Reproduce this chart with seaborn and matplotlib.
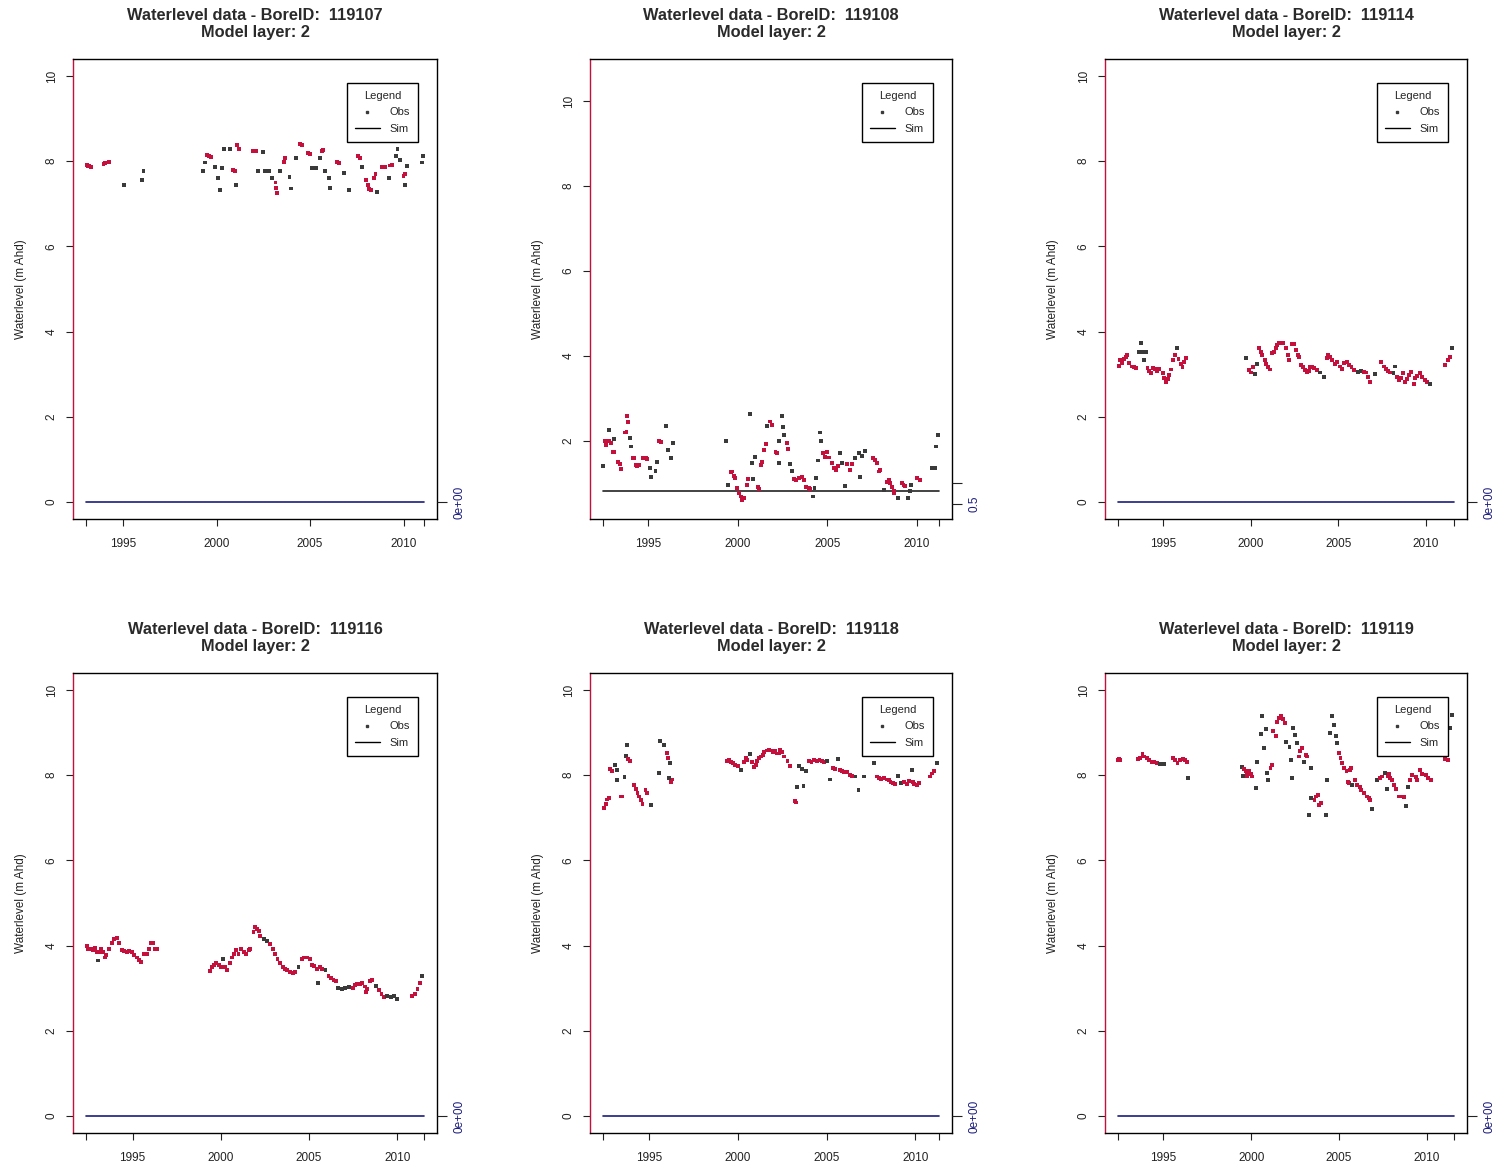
import numpy as np
import pandas as pd
import matplotlib
matplotlib.use("Agg")
import matplotlib.pyplot as plt
import seaborn as sns
from matplotlib.lines import Line2D

sns.set_style("white")
plt.rcParams["font.family"] = ["Liberation Sans", "DejaVu Sans"]

# ---------------- data ----------------
bore_ids = ["119107", "119108", "119114", "119116", "119118", "119119"]
model_layer = 2
sim_level = [0.0, 0.82, 0.0, 0.0, 0.0, 0.0]
sim_start = [1993.04, 1992.49, 1992.44, 1992.39, 1992.43, 1992.45]
sim_end = [2011.07, 2011.21, 2011.58, 2011.48, 2011.31, 2011.51]
y_limits = [(-0.4, 10.4), (0.15, 11.0), (-0.4, 10.4), (-0.4, 10.4), (-0.4, 10.4), (-0.4, 10.4)]
y_ticks = [0, 2, 4, 6, 8, 10]
x_tick_years = [1995, 2000, 2005, 2010]
sim_ticks = [[0.0], [0.5, 1.0], [0.0], [0.0], [0.0], [0.0]]
sim_tick_labels = [["0e+00"], ["0.5", ""], ["0e+00"], ["0e+00"], ["0e+00"], ["0e+00"]]

obs_year_1 = [1993.05, 1993.12, 1993.2, 1993.28, 1993.95, 1994.05, 1994.15, 1994.25, 1995.07, 1996.0,
              1996.09, 1999.27, 1999.4, 1999.5, 1999.6, 1999.7, 1999.9, 2000.07, 2000.16, 2000.3,
              2000.4, 2000.7, 2000.9, 2000.98, 2001.05, 2001.1, 2001.2, 2001.95, 2002.1, 2002.2,
              2002.5, 2002.6, 2002.8, 2002.96, 2003.15, 2003.2, 2003.25, 2003.4, 2003.6, 2003.68,
              2003.9, 2004.0, 2004.25, 2004.45, 2004.55, 2004.9, 2005.0, 2005.1, 2005.3, 2005.55,
              2005.62, 2005.7, 2005.8, 2006.0, 2006.05, 2006.45, 2006.55, 2006.8, 2007.1, 2007.55,
              2007.65, 2007.8, 2008.0, 2008.08, 2008.15, 2008.25, 2008.4, 2008.5, 2008.6, 2008.85,
              2009.0, 2009.2, 2009.3, 2009.38, 2009.6, 2009.68, 2009.8, 2010.0, 2010.08, 2010.1,
              2010.2, 2011.0, 2011.05]
obs_level_1 = [7.92, 7.88, 7.9, 7.86, 7.94, 7.96, 7.97, 7.98, 7.45, 7.56,
               7.77, 7.77, 7.97, 8.14, 8.12, 8.1, 7.86, 7.6, 7.33, 7.85,
               8.29, 8.29, 7.8, 7.76, 7.45, 8.39, 8.29, 8.23, 8.23, 7.76,
               8.22, 7.78, 7.78, 7.6, 7.5, 7.37, 7.25, 7.78, 7.98, 8.07,
               7.62, 7.36, 8.07, 8.4, 8.37, 8.2, 8.18, 7.85, 7.85, 8.08,
               8.25, 8.27, 7.78, 7.6, 7.38, 7.98, 7.96, 7.72, 7.33, 8.12,
               8.07, 7.86, 7.55, 7.45, 7.35, 7.33, 7.6, 7.7, 7.28, 7.87,
               7.87, 7.6, 7.9, 7.92, 8.12, 8.28, 8.02, 7.65, 7.7, 7.45,
               7.88, 7.97, 8.13]

obs_year_2 = [1992.45, 1992.56, 1992.65, 1992.78, 1992.8, 1992.92, 1993.0, 1993.08, 1993.1, 1993.3,
              1993.4, 1993.45, 1993.7, 1993.78, 1993.8, 1993.86, 1993.98, 1994.05, 1994.15, 1994.22,
              1994.3, 1994.38, 1994.5, 1994.7, 1994.85, 1994.95, 1995.1, 1995.16, 1995.4, 1995.46,
              1995.6, 1995.7, 1995.96, 1996.1, 1996.24, 1996.39, 1999.36, 1999.44, 1999.6, 1999.68,
              1999.76, 1999.82, 1999.96, 2000.05, 2000.15, 2000.24, 2000.33, 2000.5, 2000.55, 2000.7,
              2000.8, 2000.85, 2000.98, 2001.1, 2001.2, 2001.3, 2001.35, 2001.45, 2001.55, 2001.62,
              2001.78, 2001.88, 2002.1, 2002.2, 2002.28, 2002.32, 2002.48, 2002.52, 2002.56, 2002.74,
              2002.78, 2002.9, 2003.0, 2003.15, 2003.26, 2003.4, 2003.58, 2003.68, 2003.82, 2003.95,
              2004.05, 2004.2, 2004.28, 2004.38, 2004.45, 2004.58, 2004.65, 2004.76, 2004.88, 2005.0,
              2005.1, 2005.25, 2005.35, 2005.5, 2005.6, 2005.72, 2005.82, 2006.0, 2006.1, 2006.24,
              2006.37, 2006.55, 2006.75, 2006.8, 2006.92, 2007.1, 2007.55, 2007.68, 2007.77, 2007.86,
              2007.95, 2008.15, 2008.32, 2008.42, 2008.5, 2008.6, 2008.7, 2008.74, 2008.92, 2009.15,
              2009.25, 2009.35, 2009.5, 2009.62, 2009.66, 2010.0, 2010.15, 2010.82, 2011.0, 2011.08,
              2011.2]
obs_level_2 = [1.41, 1.98, 1.90, 2.25, 2.0, 1.95, 1.72, 1.72, 2.03, 1.5,
               1.45, 1.32, 2.19, 2.21, 2.58, 2.43, 2.06, 1.86, 1.58, 1.58,
               1.43, 1.40, 1.43, 1.58, 1.58, 1.56, 1.35, 1.14, 1.29, 1.5,
               1.98, 1.96, 2.35, 1.78, 1.58, 1.94, 1.98, 0.96, 1.25, 1.27,
               1.17, 1.11, 0.88, 0.77, 0.68, 0.6, 0.64, 0.96, 1.09, 2.63,
               1.48, 1.09, 1.62, 0.9, 0.85, 1.43, 1.5, 1.77, 1.92, 2.35,
               2.45, 2.37, 1.74, 1.7, 1.98, 1.47, 2.58, 2.33, 2.13, 1.94,
               1.8, 1.45, 1.29, 1.1, 1.08, 1.12, 1.14, 1.08, 0.9, 0.88,
               0.86, 0.68, 0.88, 1.11, 1.53, 2.19, 1.98, 1.7, 1.62, 1.73,
               1.6, 1.47, 1.35, 1.31, 1.39, 1.7, 1.47, 0.92, 1.45, 1.31,
               1.45, 1.58, 1.7, 1.14, 1.64, 1.75, 1.58, 1.54, 1.47, 1.27,
               1.30, 0.84, 1.03, 1.07, 1.0, 0.9, 0.8, 0.76, 0.64, 1.0,
               0.96, 0.93, 0.64, 0.8, 0.96, 1.11, 1.07, 1.35, 1.36, 1.86,
               2.13]

obs_year_3 = [1992.45, 1992.55, 1992.62, 1992.75, 1992.88, 1992.95, 1993.06, 1993.2, 1993.32, 1993.45,
              1993.6, 1993.72, 1993.82, 1993.88, 1994.0, 1994.1, 1994.2, 1994.3, 1994.4, 1994.55,
              1994.65, 1994.78, 1994.96, 1995.05, 1995.15, 1995.25, 1995.35, 1995.44, 1995.57, 1995.68,
              1995.76, 1995.87, 1996.0, 1996.1, 1996.2, 1996.3, 1999.7, 1999.9, 2000.0, 2000.12,
              2000.24, 2000.37, 2000.46, 2000.56, 2000.65, 2000.8, 2000.88, 2000.98, 2001.07, 2001.2,
              2001.33, 2001.42, 2001.52, 2001.6, 2001.75, 2001.85, 2002.0, 2002.1, 2002.2, 2002.35,
              2002.48, 2002.58, 2002.67, 2002.77, 2002.87, 2002.98, 2003.1, 2003.2, 2003.3, 2003.4,
              2003.52, 2003.63, 2003.76, 2003.95, 2004.17, 2004.36, 2004.42, 2004.55, 2004.65, 2004.8,
              2004.93, 2005.07, 2005.22, 2005.32, 2005.5, 2005.63, 2005.75, 2005.9, 2006.1, 2006.28,
              2006.47, 2006.6, 2006.7, 2006.8, 2007.1, 2007.45, 2007.58, 2007.72, 2007.83, 2007.96,
              2008.15, 2008.25, 2008.35, 2008.48, 2008.6, 2008.68, 2008.8, 2008.92, 2009.05, 2009.17,
              2009.3, 2009.4, 2009.5, 2009.68, 2009.78, 2009.94, 2010.07, 2010.25, 2011.1, 2011.25,
              2011.38, 2011.5]
obs_level_3 = [3.19, 3.33, 3.27, 3.35, 3.40, 3.45, 3.27, 3.18, 3.16, 3.14,
               3.53, 3.73, 3.53, 3.33, 3.53, 3.14, 3.08, 3.02, 3.14, 3.12,
               3.08, 3.12, 3.02, 2.9, 2.82, 2.88, 2.98, 3.11, 3.33, 3.45,
               3.61, 3.35, 3.25, 3.16, 3.29, 3.37, 3.37, 3.1, 3.04, 3.16,
               3.0, 3.25, 3.61, 3.53, 3.45, 3.33, 3.25, 3.16, 3.11, 3.5,
               3.53, 3.61, 3.69, 3.73, 3.73, 3.73, 3.61, 3.45, 3.33, 3.71,
               3.71, 3.57, 3.45, 3.40, 3.22, 3.16, 3.1, 3.06, 3.08, 3.16,
               3.16, 3.14, 3.10, 3.04, 2.93, 3.37, 3.45, 3.41, 3.33, 3.25,
               3.29, 3.18, 3.12, 3.27, 3.29, 3.22, 3.16, 3.1, 3.06, 3.08,
               3.06, 3.04, 2.94, 2.82, 3.0, 3.29, 3.18, 3.12, 3.08, 3.04,
               3.02, 3.18, 2.94, 2.86, 2.9, 3.02, 2.82, 2.88, 2.98, 3.06,
               2.77, 2.9, 2.96, 3.02, 2.93, 2.86, 2.82, 2.78, 3.22, 3.33,
               3.40, 3.61]

obs_year_4 = [1992.4, 1992.5, 1992.62, 1992.74, 1992.87, 1993.0, 1993.04, 1993.1, 1993.2, 1993.3,
              1993.45, 1993.52, 1993.68, 1993.83, 1993.97, 1994.1, 1994.25, 1994.38, 1994.52, 1994.67,
              1994.82, 1994.95, 1995.08, 1995.23, 1995.38, 1995.5, 1995.64, 1995.8, 1995.95, 1996.02,
              1996.17, 1996.27, 1996.36, 1999.4, 1999.5, 1999.6, 1999.74, 1999.87, 2000.0, 2000.13,
              2000.25, 2000.36, 2000.5, 2000.62, 2000.72, 2000.87, 2001.0, 2001.14, 2001.3, 2001.45,
              2001.57, 2001.67, 2001.85, 2001.96, 2002.05, 2002.14, 2002.23, 2002.42, 2002.6, 2002.8,
              2002.95, 2003.08, 2003.21, 2003.36, 2003.5, 2003.64, 2003.77, 2003.93, 2004.08, 2004.22,
              2004.4, 2004.6, 2004.73, 2004.88, 2005.04, 2005.17, 2005.3, 2005.45, 2005.5, 2005.6,
              2005.73, 2005.93, 2006.1, 2006.23, 2006.38, 2006.53, 2006.66, 2006.85, 2007.04, 2007.25,
              2007.5, 2007.6, 2007.72, 2007.87, 2008.0, 2008.14, 2008.22, 2008.3, 2008.43, 2008.57,
              2008.77, 2008.96, 2009.1, 2009.25, 2009.43, 2009.62, 2009.8, 2010.0, 2010.85, 2010.98,
              2011.14, 2011.3, 2011.42]
obs_level_4 = [4.0, 3.93, 3.91, 3.89, 3.95, 3.86, 3.65, 3.85, 3.91, 3.85,
               3.72, 3.78, 3.93, 4.06, 4.15, 4.17, 4.06, 3.89, 3.87, 3.85,
               3.87, 3.85, 3.78, 3.72, 3.66, 3.61, 3.8, 3.8, 3.93, 4.06,
               4.06, 3.91, 3.91, 3.4, 3.5, 3.55, 3.59, 3.55, 3.5, 3.68,
               3.49, 3.42, 3.59, 3.72, 3.8, 3.89, 3.8, 3.93, 3.85, 3.8,
               3.89, 3.93, 4.32, 4.44, 4.40, 4.34, 4.23, 4.15, 4.10, 4.03,
               3.93, 3.80, 3.68, 3.59, 3.50, 3.46, 3.42, 3.38, 3.36, 3.38,
               3.5, 3.68, 3.72, 3.72, 3.68, 3.55, 3.52, 3.46, 3.12, 3.5,
               3.46, 3.42, 3.29, 3.25, 3.2, 3.16, 3.01, 2.99, 3.01, 3.03,
               3.0, 3.07, 3.09, 3.1, 3.12, 3.04, 2.9, 2.98, 3.16, 3.2,
               3.06, 2.95, 2.86, 2.8, 2.82, 2.8, 2.82, 2.74, 2.82, 2.86,
               2.99, 3.12, 3.29]

obs_year_5 = [1992.47, 1992.55, 1992.65, 1992.75, 1992.78, 1992.9, 1993.07, 1993.18, 1993.22, 1993.4,
              1993.5, 1993.62, 1993.7, 1993.75, 1993.82, 1993.93, 1994.16, 1994.25, 1994.35, 1994.44,
              1994.53, 1994.63, 1994.8, 1994.9, 1995.1, 1995.57, 1995.62, 1995.85, 1996.0, 1996.08,
              1996.15, 1996.2, 1996.25, 1996.32, 1999.41, 1999.5, 1999.6, 1999.72, 1999.85, 2000.0,
              2000.2, 2000.35, 2000.44, 2000.54, 2000.7, 2000.8, 2000.9, 2001.0, 2001.1, 2001.2,
              2001.3, 2001.4, 2001.5, 2001.62, 2001.75, 2001.85, 2002.0, 2002.1, 2002.2, 2002.3,
              2002.4, 2002.5, 2002.6, 2002.8, 2002.95, 2003.2, 2003.26, 2003.35, 2003.45, 2003.62,
              2003.7, 2003.82, 2004.0, 2004.15, 2004.28, 2004.45, 2004.6, 2004.75, 2004.85, 2005.05,
              2005.2, 2005.38, 2005.5, 2005.64, 2005.75, 2005.88, 2006.0, 2006.15, 2006.3, 2006.45,
              2006.63, 2006.8, 2007.1, 2007.67, 2007.82, 2007.95, 2008.08, 2008.23, 2008.38, 2008.5,
              2008.6, 2008.75, 2008.88, 2009.0, 2009.2, 2009.38, 2009.53, 2009.66, 2009.8, 2009.86,
              2009.95, 2010.1, 2010.2, 2010.85, 2010.95, 2011.04, 2011.23]
obs_level_5 = [7.23, 7.33, 7.43, 7.47, 8.15, 8.09, 8.25, 7.88, 8.13, 7.5,
               7.5, 7.95, 8.46, 8.72, 8.37, 8.33, 7.78, 7.68, 7.58, 7.5,
               7.41, 7.33, 7.66, 7.58, 7.31, 8.05, 8.8, 8.72, 8.52, 8.4,
               7.94, 8.29, 7.83, 7.9, 8.33, 8.35, 8.3, 8.29, 8.25, 8.21,
               8.12, 8.3, 8.4, 8.35, 8.5, 8.3, 8.2, 8.25, 8.33, 8.4,
               8.44, 8.48, 8.54, 8.58, 8.6, 8.58, 8.54, 8.58, 8.51, 8.51,
               8.6, 8.54, 8.44, 8.33, 8.22, 7.39, 7.36, 7.72, 8.21, 8.15,
               7.74, 8.09, 8.33, 8.3, 8.35, 8.33, 8.35, 8.33, 8.3, 8.33,
               7.9, 8.17, 8.15, 8.37, 8.13, 8.09, 8.07, 8.07, 8.01, 7.99,
               7.97, 7.66, 7.97, 8.29, 7.97, 7.94, 7.91, 7.94, 7.9, 7.88,
               7.83, 7.82, 7.8, 7.99, 7.82, 7.83, 7.8, 7.86, 8.13, 7.83,
               7.8, 7.78, 7.82, 7.97, 8.04, 8.09, 8.29]

obs_year_6 = [1992.4, 1992.5, 1992.56, 1993.54, 1993.69, 1993.82, 1993.92, 1994.07, 1994.2, 1994.34,
              1994.49, 1994.64, 1994.83, 1995.02, 1995.53, 1995.66, 1995.81, 1995.96, 1996.1, 1996.23,
              1996.34, 1996.4, 1999.5, 1999.55, 1999.6, 1999.68, 1999.74, 1999.78, 1999.88, 1999.97,
              2000.07, 2000.25, 2000.32, 2000.54, 2000.63, 2000.73, 2000.82, 2000.9, 2000.95, 2001.1,
              2001.2, 2001.26, 2001.4, 2001.45, 2001.58, 2001.7, 2001.8, 2001.9, 2002.0, 2002.18,
              2002.25, 2002.3, 2002.4, 2002.5, 2002.6, 2002.7, 2002.8, 2002.9, 2003.0, 2003.1,
              2003.2, 2003.3, 2003.38, 2003.42, 2003.6, 2003.7, 2003.8, 2003.88, 2003.95, 2004.28,
              2004.32, 2004.5, 2004.6, 2004.7, 2004.8, 2004.9, 2005.0, 2005.08, 2005.17, 2005.3,
              2005.42, 2005.5, 2005.56, 2005.62, 2005.7, 2005.75, 2005.93, 2006.03, 2006.18, 2006.25,
              2006.4, 2006.6, 2006.68, 2006.77, 2006.88, 2007.16, 2007.35, 2007.44, 2007.63, 2007.73,
              2007.75, 2007.82, 2007.92, 2008.0, 2008.1, 2008.25, 2008.38, 2008.48, 2008.57, 2008.67,
              2008.82, 2008.9, 2009.05, 2009.15, 2009.35, 2009.45, 2009.62, 2009.72, 2009.96, 2010.08,
              2010.2, 2011.04, 2011.17, 2011.3, 2011.4]
obs_level_6 = [8.36, 8.38, 8.35, 8.38, 8.4, 8.5, 8.44, 8.4, 8.35, 8.3,
               8.32, 8.28, 8.27, 8.27, 8.4, 8.35, 8.28, 8.35, 8.38, 8.35,
               8.32, 7.93, 8.19, 7.98, 8.14, 8.11, 7.98, 8.06, 8.09, 8.03,
               7.97, 7.7, 8.32, 8.97, 9.39, 8.63, 9.08, 8.05, 7.89, 8.17,
               8.24, 9.03, 8.92, 9.24, 9.34, 9.39, 9.32, 9.22, 8.77, 8.67,
               8.36, 7.93, 9.1, 8.95, 8.75, 8.44, 8.56, 8.63, 8.32, 8.48,
               8.44, 7.07, 8.17, 7.46, 7.42, 7.5, 7.54, 7.3, 7.34, 7.07,
               7.89, 8.99, 9.39, 9.18, 8.91, 8.75, 8.52, 8.4, 8.28, 8.17,
               8.09, 7.85, 7.81, 8.13, 8.17, 7.77, 7.89, 7.77, 7.73, 7.66,
               7.58, 7.5, 7.46, 7.42, 7.2, 7.89, 7.93, 7.97, 8.05, 7.67,
               7.97, 8.03, 7.93, 7.89, 7.77, 7.67, 7.5, 7.5, 7.5, 7.48,
               7.27, 7.72, 7.89, 8.01, 7.95, 7.89, 8.13, 8.03, 8.01, 7.93,
               7.89, 8.38, 8.35, 9.1, 9.42]

obs_years = [obs_year_1, obs_year_2, obs_year_3, obs_year_4, obs_year_5, obs_year_6]
obs_levels = [obs_level_1, obs_level_2, obs_level_3, obs_level_4, obs_level_5, obs_level_6]

# ---------------- style ----------------
RED = "#c4103c"
DOT = "#3a3a3a"
NAVY = "#1c1c80"
TXT = "#222222"
W, H = 1502, 1168
col_left = [73, 590, 1105]
col_w = [364, 362, 362]
row_top = [59, 673]
ax_h = 460

fig = plt.figure(figsize=(W / 100, H / 100), dpi=100)
fig.patch.set_facecolor("white")

for i in range(6):
    r, c = divmod(i, 3)
    rect = [col_left[c] / W, 1 - (row_top[r] + ax_h) / H, col_w[c] / W, ax_h / H]
    ax = fig.add_axes(rect)
    yr = np.asarray(obs_years[i], float)
    lv = np.asarray(obs_levels[i], float)

    # observations in closely spaced runs are shown in red, isolated ones dark
    connect = (np.diff(yr) <= 0.16) & (np.abs(np.diff(lv)) <= 0.15)
    linked = np.zeros(len(yr), bool)
    linked[:-1] |= connect
    linked[1:] |= connect
    df = pd.DataFrame({"year": yr, "level": lv,
                       "kind": np.where(linked, "run", "single")})

    sns.scatterplot(data=df, x="year", y="level", hue="kind", ax=ax,
                    palette={"run": RED, "single": DOT}, marker="s",
                    s=8, linewidth=0, zorder=3, legend=False)

    sim_df = pd.DataFrame({"year": [sim_start[i], sim_end[i]],
                           "level": [sim_level[i], sim_level[i]]})
    sim_col = "#222222" if i == 1 else NAVY
    sns.lineplot(data=sim_df, x="year", y="level", ax=ax, color=sim_col, lw=1.2,
                 estimator=None, zorder=2)

    span = sim_end[i] - sim_start[i]
    ax.set_xlim(sim_start[i] - 0.04 * span, sim_end[i] + 0.04 * span)
    ax.set_ylim(*y_limits[i])
    ax.set_yticks([t for t in y_ticks if y_limits[i][0] <= t <= y_limits[i][1]])
    ax.set_xticks([sim_start[i]] + x_tick_years + [sim_end[i]])
    ax.set_xticklabels([""] + [str(v) for v in x_tick_years] + [""])
    ax.set_xlabel("")
    ax.set_ylabel("Waterlevel (m Ahd)", fontsize=8.5, color=TXT)
    ax.yaxis.set_label_coords(-46 / col_w[c], 0.5)
    ax.tick_params(axis="both", direction="out", length=5, width=0.8, colors=TXT,
                   labelsize=8.5, left=True, bottom=True)
    ax.tick_params(axis="x", pad=9)
    ax.tick_params(axis="y", pad=6)
    for lab in ax.get_yticklabels():
        lab.set_rotation(90)
        lab.set_va("center")
    for name, sp in ax.spines.items():
        sp.set_visible(True)
        sp.set_color("black")
        sp.set_linewidth(1.0)
    ax.spines["left"].set_color(RED)

    ax.set_title(f"Waterlevel data - BoreID:  {bore_ids[i]}\nModel layer: {model_layer}",
                 fontsize=11.8, fontweight="bold", pad=15.5, linespacing=1.2, color="#2a2a2a")

    ax2 = ax.twinx()
    ax2.set_ylim(ax.get_ylim())
    ax2.set_yticks(sim_ticks[i])
    ax2.set_yticklabels(sim_tick_labels[i], rotation=90, va="center")
    ax2.tick_params(axis="y", direction="out", length=7, width=0.8, colors=TXT,
                    labelcolor=NAVY, labelsize=8.5, pad=5, right=True)
    for sp in ax2.spines.values():
        sp.set_visible(False)
    ax2.grid(False)

    handles = [Line2D([], [], ls="none", marker="s", ms=2, color=DOT),
               Line2D([], [], color="black", lw=1.0)]
    leg = ax2.legend(handles, ["Obs", "Sim"], title="Legend", loc="upper right",
                     bbox_to_anchor=(1 - 19 / col_w[c], 1 - 24 / ax_h), borderaxespad=0,
                     fontsize=8, title_fontsize=8, frameon=True, fancybox=False,
                     framealpha=1, edgecolor="black", handlelength=2.25, handletextpad=0.9,
                     borderpad=0.7, labelspacing=0.6)
    leg.get_frame().set_linewidth(1.0)
    leg.set_zorder(10)

fig.savefig("out.png", dpi=100, facecolor="white")
